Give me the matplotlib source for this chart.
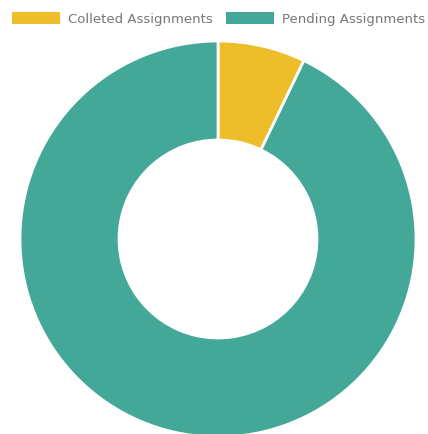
import matplotlib
matplotlib.use("Agg")
import matplotlib.pyplot as plt
from matplotlib.patches import Rectangle

# data
labels = ["Colleted Assignments", "Pending Assignments"]
values = [1, 13]
colors = ["#EDBE2A", "#43A898"]

W, H = 428, 435
fig = plt.figure(figsize=(W / 100, H / 100), dpi=100)

# donut: center (218, 240) px, radius 198 px
cx, cy, r = 218, 240, 198
ax = fig.add_axes([(cx - r) / W, (H - cy - r) / H, 2 * r / W, 2 * r / H])
ax.pie(values, colors=colors, startangle=90, counterclock=False, radius=1,
       wedgeprops=dict(width=0.5, edgecolor="white", linewidth=2))
ax.set_xlim(-1, 1)
ax.set_ylim(-1, 1)
ax.set_aspect("auto")
ax.axis("off")

# legend drawn by hand at the top
box_x = [12, 226]
for lab, col, bx in zip(labels, colors, box_x):
    fig.patches.append(Rectangle((bx / W, (H - 25) / H), 48 / W, 12 / H,
                                 transform=fig.transFigure, facecolor=col,
                                 edgecolor="none"))
    fig.text((bx + 56) / W, (H - 19) / H, lab, fontsize=9.5, color="#777777",
             va="center", ha="left")

fig.savefig("out.png", dpi=100)
